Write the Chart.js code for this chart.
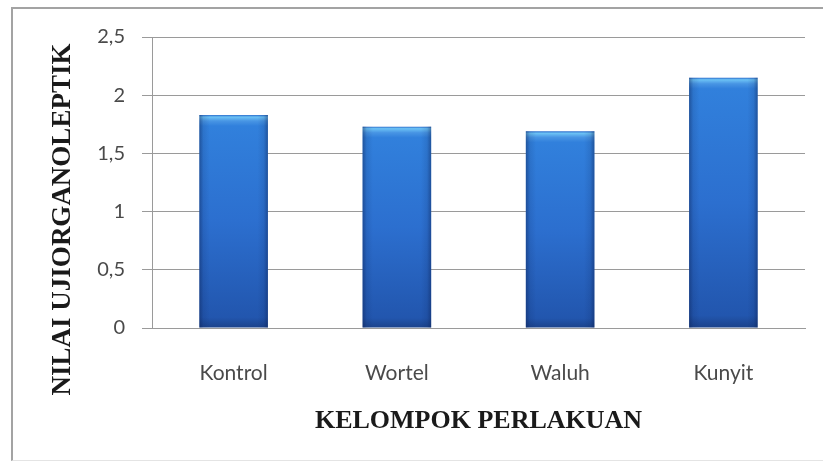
<!DOCTYPE html>
<html>
<head>
<meta charset="utf-8">
<script src="https://cdn.jsdelivr.net/npm/chart.js@4/dist/chart.umd.min.js"></script>
<style>
  html, body { margin: 0; padding: 0; background: #fff; }
  #wrap { position: relative; width: 823px; height: 467px; overflow: hidden; }
  #frame {
    position: absolute; left: 11px; top: 7px; width: 830px; height: 451px;
    border-left: 2px solid #a3a3a3; border-top: 2px solid #a3a3a3;
    border-bottom: 1px solid #e4e4e4;
  }
  canvas { position: absolute; left: 0; top: 0; }
</style>
</head>
<body>
<div id="wrap">
  <div id="frame"></div>
  <canvas id="myChart" width="823" height="467"></canvas>
</div>
<script>
// kelompok perlakuan dan nilai uji organoleptik
const groups = ['Kontrol', 'Wortel', 'Waluh', 'Kunyit'];
const scores = [1.83, 1.73, 1.69, 2.15];
const yTicks = [0, 0.5, 1, 1.5, 2, 2.5];

const xTitle = 'KELOMPOK PERLAKUAN';
const yTitle = 'NILAI UJIORGANOLEPTIK';

// vertical shading for each bar, from its top down to the base
const barFill = (context) => {
  const chart = context.chart;
  if (!chart.chartArea || context.raw == null) return '#2f6fcf';
  const yScale = chart.scales.y;
  const top = yScale.getPixelForValue(context.raw);
  const base = yScale.getPixelForValue(0);
  const h = Math.max(base - top, 1);
  const g = chart.ctx.createLinearGradient(0, top, 0, base);
  g.addColorStop(0, '#2a6ccb');
  g.addColorStop(Math.min(2 / h, 1), '#6cc2f5');
  g.addColorStop(Math.min(6 / h, 1), '#4895e4');
  g.addColorStop(Math.min(11 / h, 1), '#3180dc');
  g.addColorStop(0.5, '#2c6fcf');
  g.addColorStop(0.95, '#2256ae');
  g.addColorStop(1, '#1b428a');
  return g;
};

// darker side edges so the bars look rounded
const barEdges = {
  id: 'barEdges',
  afterDatasetsDraw(chart) {
    const ctx = chart.ctx;
    chart.getDatasetMeta(0).data.forEach((bar) => {
      const left = bar.x - bar.width / 2;
      const right = bar.x + bar.width / 2;
      const g = ctx.createLinearGradient(left, 0, right, 0);
      g.addColorStop(0, 'rgba(10,30,80,0.45)');
      g.addColorStop(0.06, 'rgba(10,30,80,0.12)');
      g.addColorStop(0.15, 'rgba(10,30,80,0)');
      g.addColorStop(0.85, 'rgba(10,30,80,0)');
      g.addColorStop(0.94, 'rgba(10,30,80,0.12)');
      g.addColorStop(1, 'rgba(10,30,80,0.45)');
      ctx.save();
      ctx.fillStyle = g;
      ctx.fillRect(left, bar.y, bar.width, bar.base - bar.y);
      ctx.restore();
    });
  }
};

// the y title sits a little lower than the middle of the axis
const sideTitle = {
  id: 'sideTitle',
  afterDraw(chart) {
    const ctx = chart.ctx;
    const area = chart.chartArea;
    ctx.save();
    ctx.translate(70, (area.top + area.bottom) / 2 + 37);
    ctx.rotate(-Math.PI / 2);
    ctx.font = 'bold 27px "Liberation Serif"';
    ctx.fillStyle = '#1a1a1a';
    ctx.textAlign = 'center';
    ctx.textBaseline = 'alphabetic';
    ctx.fillText(yTitle, 0, 0);
    ctx.restore();
  }
};

const ctx = document.getElementById('myChart').getContext('2d');
new Chart(ctx, {
  type: 'bar',
  data: {
    labels: groups,
    datasets: [{
      data: scores,
      backgroundColor: barFill,
      borderWidth: 0,
      barPercentage: 0.42,
      categoryPercentage: 1.0
    }]
  },
  options: {
    responsive: false,
    animation: false,
    events: [],
    layout: { padding: { top: 37, right: 18, bottom: 30, left: 40 } },
    plugins: {
      legend: { display: false },
      tooltip: { enabled: false }
    },
    scales: {
      x: {
        grid: { display: false, drawTicks: false },
        border: { display: true, color: '#9a9a9a', width: 1 },
        ticks: {
          padding: 33,
          color: '#4a4a4a',
          font: { family: 'Lato', size: 21 }
        },
        title: {
          display: true,
          text: xTitle,
          color: '#1a1a1a',
          padding: { top: 0, bottom: 0 },
          font: { family: 'Liberation Serif', size: 26, weight: 'bold' }
        },
        afterFit: (scale) => { scale.height = 109; }
      },
      y: {
        min: 0,
        max: 2.5,
        afterBuildTicks: (scale) => { scale.ticks = yTicks.map(v => ({ value: v })); },
        grid: { color: '#9a9a9a', lineWidth: 1, tickLength: 10, drawTicks: true },
        border: { display: true, color: '#9a9a9a', width: 1 },
        ticks: {
          padding: 17,
          color: '#4a4a4a',
          font: { family: 'Lato', size: 20 },
          callback: (v) => String(v).replace('.', ',')
        },
        afterFit: (scale) => { scale.width = 112; }
      }
    }
  },
  plugins: [barEdges, sideTitle]
});
</script>
</body>
</html>
